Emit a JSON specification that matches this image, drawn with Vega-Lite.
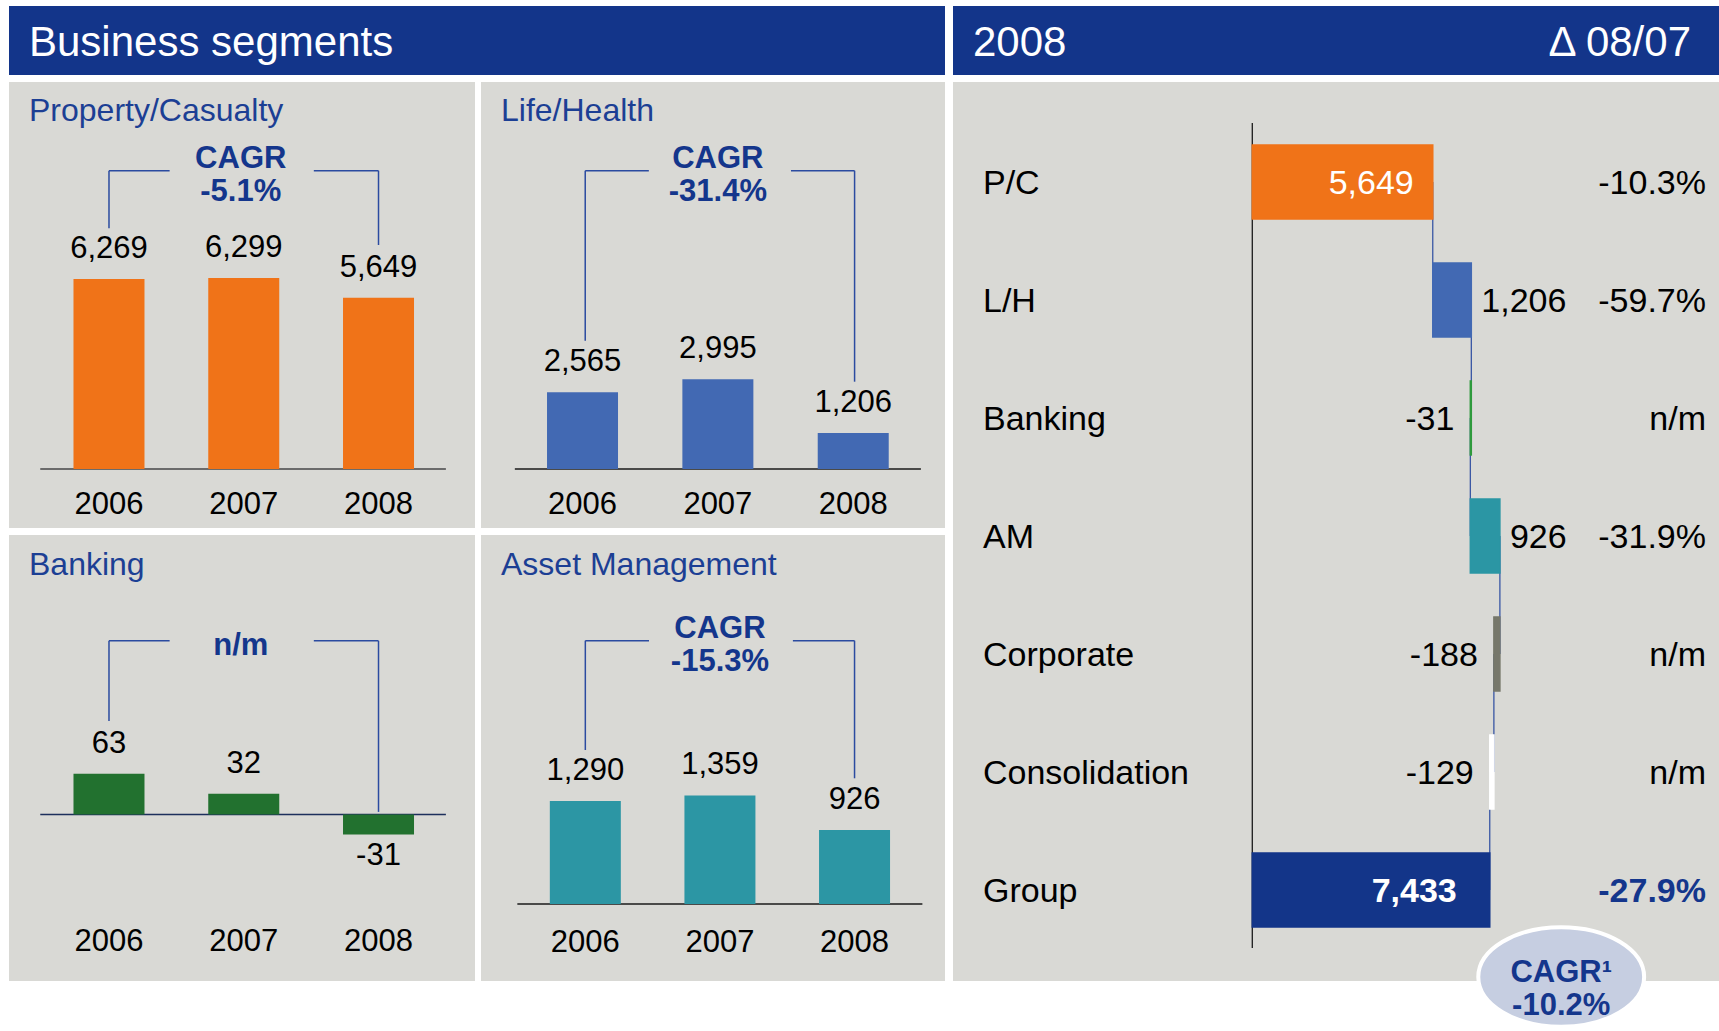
{
"$schema": "https://vega.github.io/schema/vega-lite/v6.json",
"background": "white",
"padding": {"left": 9, "top": 6, "right": 0, "bottom": 0},
"config": {"view": {"stroke": null}, "font": "Liberation Sans", "scale": {"continuousPadding": 0}},
"spacing": 7,
"vconcat": [
 {"hconcat": [
   {"width": 936, "height": 69, "view": {"fill": "#13358a", "stroke": null},
    "data": {"values": [{"t": "Business segments", "p": 0}]},
    "mark": {"type": "text", "align": "left", "baseline": "middle", "dx": 20, "dy": 2, "fontSize": 42, "color": "white"},
    "encoding": {"x": {"field": "p", "type": "quantitative", "axis": null, "scale": {"domain": [0, 1]}}, "text": {"field": "t"}}},
   {"width": 766, "height": 69, "view": {"fill": "#13358a", "stroke": null},
    "layer": [
     {"data": {"values": [{"t": "2008", "p": 0}]},
      "mark": {"type": "text", "align": "left", "baseline": "middle", "dx": 20, "dy": 2, "fontSize": 42, "color": "white"},
      "encoding": {"x": {"field": "p", "type": "quantitative", "axis": null, "scale": {"domain": [0, 1]}}, "text": {"field": "t"}}},
     {"data": {"values": [{"t": "Δ 08/07", "p": 1}]},
      "mark": {"type": "text", "align": "right", "baseline": "middle", "dx": -28, "dy": 2, "fontSize": 42, "color": "white"},
      "encoding": {"x": {"field": "p", "type": "quantitative", "axis": null, "scale": {"domain": [0, 1]}}, "text": {"field": "t"}}}
    ]}
  ], "spacing": 8},
 {"hconcat": [
   {"vconcat": [
     {"hconcat": [
       {"width": 466, "height": 446, "view": {"fill": "#d9d9d5", "stroke": null},
        "layer": [
         {"data": {"values": [{"a": 2005.49, "b": 2008.5, "z": 0}]},
          "mark": {"type": "rule", "color": "#6b6b6b", "strokeWidth": 2},
          "encoding": {"x": {"field": "a", "type": "quantitative", "axis": null, "scale": {"domain": [2005.258, 2008.716], "nice": false, "zero": false, "padding": 0}}, "x2": {"field": "b"},
                       "y": {"field": "z", "type": "quantitative", "axis": null, "scale": {"domain": [-1947, 12771], "nice": false, "zero": false}}}},
         {"data": {"values": [{"year": 2006, "v": 6269, "label": "6,269"}, {"year": 2007, "v": 6299, "label": "6,299"}, {"year": 2008, "v": 5649, "label": "5,649"}]},
          "layer": [
           {"mark": {"type": "bar", "color": "#f07318", "size": 71},
            "encoding": {"x": {"field": "year", "type": "quantitative", "axis": null, "scale": {"domain": [2005.258, 2008.716], "nice": false, "zero": false, "padding": 0}},
                         "y": {"field": "v", "type": "quantitative", "axis": null, "scale": {"domain": [-1947, 12771], "nice": false, "zero": false}}}},
           {"mark": {"type": "text", "fontSize": 31, "dy": -21, "baseline": "alphabetic", "color": "black"},
            "encoding": {"x": {"field": "year", "type": "quantitative", "axis": null, "scale": {"domain": [2005.258, 2008.716], "nice": false, "zero": false, "padding": 0}},
                         "y": {"field": "v", "type": "quantitative", "axis": null, "scale": {"domain": [-1947, 12771], "nice": false, "zero": false}},
                         "text": {"field": "label"}}},
           {"mark": {"type": "text", "fontSize": 31, "dy": 45, "baseline": "alphabetic", "color": "black"},
            "encoding": {"x": {"field": "year", "type": "quantitative", "axis": null, "scale": {"domain": [2005.258, 2008.716], "nice": false, "zero": false, "padding": 0}},
                         "y": {"datum": 0, "type": "quantitative", "axis": null, "scale": {"domain": [-1947, 12771], "nice": false, "zero": false}},
                         "text": {"field": "year", "type": "quantitative", "format": "d"}}}
          ]},
         {"data": {"values": [{"x": 2006, "x2": 2006, "y": 7943, "y2": 9844}, {"x": 2006, "x2": 2006.45, "y": 9844, "y2": 9844}, {"x": 2007.52, "x2": 2008, "y": 9844, "y2": 9844}, {"x": 2008, "x2": 2008, "y": 9844, "y2": 7392}]},
          "mark": {"type": "rule", "color": "#2b4ba0", "strokeWidth": 1.5},
          "encoding": {"x": {"field": "x", "type": "quantitative", "axis": null, "scale": {"domain": [2005.258, 2008.716], "nice": false, "zero": false, "padding": 0}}, "x2": {"field": "x2"},
                       "y": {"field": "y", "type": "quantitative", "axis": null, "scale": {"domain": [-1947, 12771], "nice": false, "zero": false}}, "y2": {"field": "y2"}}},
         {"data": {"values": [{"x": 2007, "y": 9844, "t": "CAGR\n-5.1%"}]},
          "mark": {"type": "text", "fontSize": 31, "fontWeight": "bold", "color": "#14368c", "lineBreak": "\n", "lineHeight": 33, "dy": -3, "dx": -3, "baseline": "alphabetic"},
          "encoding": {"x": {"field": "x", "type": "quantitative", "axis": null, "scale": {"domain": [2005.258, 2008.716], "nice": false, "zero": false, "padding": 0}},
                       "y": {"field": "y", "type": "quantitative", "axis": null, "scale": {"domain": [-1947, 12771], "nice": false, "zero": false}}, "text": {"field": "t"}}},
         {"data": {"values": [{"t": "Property/Casualty"}]},
          "mark": {"type": "text", "fontSize": 32, "color": "#1c3f94", "align": "left", "baseline": "alphabetic", "dx": 20, "dy": 39},
          "encoding": {"x": {"datum": 2005.258, "type": "quantitative", "axis": null, "scale": {"domain": [2005.258, 2008.716], "nice": false, "zero": false, "padding": 0}},
                       "y": {"datum": 12771, "type": "quantitative", "axis": null, "scale": {"domain": [-1947, 12771], "nice": false, "zero": false}}, "text": {"field": "t"}}}
        ]},
       {"width": 464, "height": 446, "view": {"fill": "#d9d9d5", "stroke": null},
        "layer": [
         {"data": {"values": [{"a": 2005.5, "b": 2008.5, "z": 0}]},
          "mark": {"type": "rule", "color": "#1a1a1a", "strokeWidth": 1.5},
          "encoding": {"x": {"field": "a", "type": "quantitative", "axis": null, "scale": {"domain": [2005.25, 2008.678], "nice": false, "zero": false, "padding": 0}}, "x2": {"field": "b"},
                       "y": {"field": "z", "type": "quantitative", "axis": null, "scale": {"domain": [-1971, 12926], "nice": false, "zero": false}}}},
         {"data": {"values": [{"year": 2006, "v": 2565, "label": "2,565"}, {"year": 2007, "v": 2995, "label": "2,995"}, {"year": 2008, "v": 1206, "label": "1,206"}]},
          "layer": [
           {"mark": {"type": "bar", "color": "#4269b3", "size": 71},
            "encoding": {"x": {"field": "year", "type": "quantitative", "axis": null, "scale": {"domain": [2005.25, 2008.678], "nice": false, "zero": false, "padding": 0}},
                         "y": {"field": "v", "type": "quantitative", "axis": null, "scale": {"domain": [-1971, 12926], "nice": false, "zero": false}}}},
           {"mark": {"type": "text", "fontSize": 31, "dy": -21, "baseline": "alphabetic", "color": "black"},
            "encoding": {"x": {"field": "year", "type": "quantitative", "axis": null, "scale": {"domain": [2005.25, 2008.678], "nice": false, "zero": false, "padding": 0}},
                         "y": {"field": "v", "type": "quantitative", "axis": null, "scale": {"domain": [-1971, 12926], "nice": false, "zero": false}},
                         "text": {"field": "label"}}},
           {"mark": {"type": "text", "fontSize": 31, "dy": 45, "baseline": "alphabetic", "color": "black"},
            "encoding": {"x": {"field": "year", "type": "quantitative", "axis": null, "scale": {"domain": [2005.25, 2008.678], "nice": false, "zero": false, "padding": 0}},
                         "y": {"datum": 0, "type": "quantitative", "axis": null, "scale": {"domain": [-1971, 12926], "nice": false, "zero": false}},
                         "text": {"field": "year", "type": "quantitative", "format": "d"}}}
          ]},
         {"data": {"values": [{"x": 2006.02, "x2": 2006.02, "y": 4285, "y2": 9963}, {"x": 2006.02, "x2": 2006.49, "y": 9963, "y2": 9963}, {"x": 2007.54, "x2": 2008.01, "y": 9963, "y2": 9963}, {"x": 2008.01, "x2": 2008.01, "y": 9963, "y2": 2916}]},
          "mark": {"type": "rule", "color": "#2b4ba0", "strokeWidth": 1.5},
          "encoding": {"x": {"field": "x", "type": "quantitative", "axis": null, "scale": {"domain": [2005.25, 2008.678], "nice": false, "zero": false, "padding": 0}}, "x2": {"field": "x2"},
                       "y": {"field": "y", "type": "quantitative", "axis": null, "scale": {"domain": [-1971, 12926], "nice": false, "zero": false}}, "y2": {"field": "y2"}}},
         {"data": {"values": [{"x": 2007, "y": 9963, "t": "CAGR\n-31.4%"}]},
          "mark": {"type": "text", "fontSize": 31, "fontWeight": "bold", "color": "#14368c", "lineBreak": "\n", "lineHeight": 33, "dy": -3, "baseline": "alphabetic"},
          "encoding": {"x": {"field": "x", "type": "quantitative", "axis": null, "scale": {"domain": [2005.25, 2008.678], "nice": false, "zero": false, "padding": 0}},
                       "y": {"field": "y", "type": "quantitative", "axis": null, "scale": {"domain": [-1971, 12926], "nice": false, "zero": false}}, "text": {"field": "t"}}},
         {"data": {"values": [{"t": "Life/Health"}]},
          "mark": {"type": "text", "fontSize": 32, "color": "#1c3f94", "align": "left", "baseline": "alphabetic", "dx": 20, "dy": 39},
          "encoding": {"x": {"datum": 2005.25, "type": "quantitative", "axis": null, "scale": {"domain": [2005.25, 2008.678], "nice": false, "zero": false, "padding": 0}},
                       "y": {"datum": 12926, "type": "quantitative", "axis": null, "scale": {"domain": [-1971, 12926], "nice": false, "zero": false}}, "text": {"field": "t"}}}
        ]}
      ], "spacing": 6},
     {"hconcat": [
       {"width": 466, "height": 446, "view": {"fill": "#d9d9d5", "stroke": null},
        "layer": [
         {"data": {"values": [{"a": 2005.49, "b": 2008.5, "z": 0}]},
          "mark": {"type": "rule", "color": "#1d2f5c", "strokeWidth": 1.5},
          "encoding": {"x": {"field": "a", "type": "quantitative", "axis": null, "scale": {"domain": [2005.258, 2008.716], "nice": false, "zero": false, "padding": 0}}, "x2": {"field": "b"},
                       "y": {"field": "z", "type": "quantitative", "axis": null, "scale": {"domain": [-258, 433], "nice": false, "zero": false}}}},
         {"data": {"values": [{"year": 2006, "v": 63, "label": "63"}, {"year": 2007, "v": 32, "label": "32"}, {"year": 2008, "v": -31, "label": "-31"}]},
          "layer": [
           {"mark": {"type": "bar", "color": "#22712f", "size": 71},
            "encoding": {"x": {"field": "year", "type": "quantitative", "axis": null, "scale": {"domain": [2005.258, 2008.716], "nice": false, "zero": false, "padding": 0}},
                         "y": {"field": "v", "type": "quantitative", "axis": null, "scale": {"domain": [-258, 433], "nice": false, "zero": false}}}},
           {"transform": [{"filter": "datum.v >= 0"}],
            "mark": {"type": "text", "fontSize": 31, "dy": -21, "baseline": "alphabetic", "color": "black"},
            "encoding": {"x": {"field": "year", "type": "quantitative", "axis": null, "scale": {"domain": [2005.258, 2008.716], "nice": false, "zero": false, "padding": 0}},
                         "y": {"field": "v", "type": "quantitative", "axis": null, "scale": {"domain": [-258, 433], "nice": false, "zero": false}},
                         "text": {"field": "label"}}},
           {"transform": [{"filter": "datum.v < 0"}],
            "mark": {"type": "text", "fontSize": 31, "dy": 31, "baseline": "alphabetic", "color": "black"},
            "encoding": {"x": {"field": "year", "type": "quantitative", "axis": null, "scale": {"domain": [2005.258, 2008.716], "nice": false, "zero": false, "padding": 0}},
                         "y": {"field": "v", "type": "quantitative", "axis": null, "scale": {"domain": [-258, 433], "nice": false, "zero": false}},
                         "text": {"field": "label"}}},
           {"mark": {"type": "text", "fontSize": 31, "dy": 137, "baseline": "alphabetic", "color": "black"},
            "encoding": {"x": {"field": "year", "type": "quantitative", "axis": null, "scale": {"domain": [2005.258, 2008.716], "nice": false, "zero": false, "padding": 0}},
                         "y": {"datum": 0, "type": "quantitative", "axis": null, "scale": {"domain": [-258, 433], "nice": false, "zero": false}},
                         "text": {"field": "year", "type": "quantitative", "format": "d"}}}
          ]},
         {"data": {"values": [{"x": 2006, "x2": 2006, "y": 145, "y2": 269}, {"x": 2006, "x2": 2006.45, "y": 269, "y2": 269}, {"x": 2007.52, "x2": 2008, "y": 269, "y2": 269}, {"x": 2008, "x2": 2008, "y": 269, "y2": 4}]},
          "mark": {"type": "rule", "color": "#2b4ba0", "strokeWidth": 1.5},
          "encoding": {"x": {"field": "x", "type": "quantitative", "axis": null, "scale": {"domain": [2005.258, 2008.716], "nice": false, "zero": false, "padding": 0}}, "x2": {"field": "x2"},
                       "y": {"field": "y", "type": "quantitative", "axis": null, "scale": {"domain": [-258, 433], "nice": false, "zero": false}}, "y2": {"field": "y2"}}},
         {"data": {"values": [{"x": 2007, "y": 269, "t": "n/m"}]},
          "mark": {"type": "text", "fontSize": 31, "fontWeight": "bold", "color": "#14368c", "dy": 14, "dx": -3, "baseline": "alphabetic"},
          "encoding": {"x": {"field": "x", "type": "quantitative", "axis": null, "scale": {"domain": [2005.258, 2008.716], "nice": false, "zero": false, "padding": 0}},
                       "y": {"field": "y", "type": "quantitative", "axis": null, "scale": {"domain": [-258, 433], "nice": false, "zero": false}}, "text": {"field": "t"}}},
         {"data": {"values": [{"t": "Banking"}]},
          "mark": {"type": "text", "fontSize": 32, "color": "#1c3f94", "align": "left", "baseline": "alphabetic", "dx": 20, "dy": 40},
          "encoding": {"x": {"datum": 2005.258, "type": "quantitative", "axis": null, "scale": {"domain": [2005.258, 2008.716], "nice": false, "zero": false, "padding": 0}},
                       "y": {"datum": 433, "type": "quantitative", "axis": null, "scale": {"domain": [-258, 433], "nice": false, "zero": false}}, "text": {"field": "t"}}}
        ]},
       {"width": 464, "height": 446, "view": {"fill": "#d9d9d5", "stroke": null},
        "layer": [
         {"data": {"values": [{"a": 2005.495, "b": 2008.504, "z": 0}]},
          "mark": {"type": "rule", "color": "#1a1a1a", "strokeWidth": 1.5},
          "encoding": {"x": {"field": "a", "type": "quantitative", "axis": null, "scale": {"domain": [2005.225, 2008.672], "nice": false, "zero": false, "padding": 0}}, "x2": {"field": "b"},
                       "y": {"field": "z", "type": "quantitative", "axis": null, "scale": {"domain": [-964, 4620], "nice": false, "zero": false}}}},
         {"data": {"values": [{"year": 2006, "v": 1290, "label": "1,290"}, {"year": 2007, "v": 1359, "label": "1,359"}, {"year": 2008, "v": 926, "label": "926"}]},
          "layer": [
           {"mark": {"type": "bar", "color": "#2c96a4", "size": 71},
            "encoding": {"x": {"field": "year", "type": "quantitative", "axis": null, "scale": {"domain": [2005.225, 2008.672], "nice": false, "zero": false, "padding": 0}},
                         "y": {"field": "v", "type": "quantitative", "axis": null, "scale": {"domain": [-964, 4620], "nice": false, "zero": false}}}},
           {"mark": {"type": "text", "fontSize": 31, "dy": -21, "baseline": "alphabetic", "color": "black"},
            "encoding": {"x": {"field": "year", "type": "quantitative", "axis": null, "scale": {"domain": [2005.225, 2008.672], "nice": false, "zero": false, "padding": 0}},
                         "y": {"field": "v", "type": "quantitative", "axis": null, "scale": {"domain": [-964, 4620], "nice": false, "zero": false}},
                         "text": {"field": "label"}}},
           {"mark": {"type": "text", "fontSize": 31, "dy": 48, "baseline": "alphabetic", "color": "black"},
            "encoding": {"x": {"field": "year", "type": "quantitative", "axis": null, "scale": {"domain": [2005.225, 2008.672], "nice": false, "zero": false, "padding": 0}},
                         "y": {"datum": 0, "type": "quantitative", "axis": null, "scale": {"domain": [-964, 4620], "nice": false, "zero": false}},
                         "text": {"field": "year", "type": "quantitative", "format": "d"}}}
          ]},
         {"data": {"values": [{"x": 2006, "x2": 2006, "y": 1928, "y2": 3297}, {"x": 2006, "x2": 2006.473, "y": 3297, "y2": 3297}, {"x": 2007.542, "x2": 2008, "y": 3297, "y2": 3297}, {"x": 2008, "x2": 2008, "y": 3297, "y2": 1574}]},
          "mark": {"type": "rule", "color": "#2b4ba0", "strokeWidth": 1.5},
          "encoding": {"x": {"field": "x", "type": "quantitative", "axis": null, "scale": {"domain": [2005.225, 2008.672], "nice": false, "zero": false, "padding": 0}}, "x2": {"field": "x2"},
                       "y": {"field": "y", "type": "quantitative", "axis": null, "scale": {"domain": [-964, 4620], "nice": false, "zero": false}}, "y2": {"field": "y2"}}},
         {"data": {"values": [{"x": 2007, "y": 3297, "t": "CAGR\n-15.3%"}]},
          "mark": {"type": "text", "fontSize": 31, "fontWeight": "bold", "color": "#14368c", "lineBreak": "\n", "lineHeight": 33, "dy": -3, "baseline": "alphabetic"},
          "encoding": {"x": {"field": "x", "type": "quantitative", "axis": null, "scale": {"domain": [2005.225, 2008.672], "nice": false, "zero": false, "padding": 0}},
                       "y": {"field": "y", "type": "quantitative", "axis": null, "scale": {"domain": [-964, 4620], "nice": false, "zero": false}}, "text": {"field": "t"}}},
         {"data": {"values": [{"t": "Asset Management"}]},
          "mark": {"type": "text", "fontSize": 32, "color": "#1c3f94", "align": "left", "baseline": "alphabetic", "dx": 20, "dy": 40},
          "encoding": {"x": {"datum": 2005.225, "type": "quantitative", "axis": null, "scale": {"domain": [2005.225, 2008.672], "nice": false, "zero": false, "padding": 0}},
                       "y": {"datum": 4620, "type": "quantitative", "axis": null, "scale": {"domain": [-964, 4620], "nice": false, "zero": false}}, "text": {"field": "t"}}}
        ]}
      ], "spacing": 6}
    ], "spacing": 7},
   {"width": 766, "height": 899, "view": {"fill": "#d9d9d5", "stroke": null},
    "layer": [
     {"data": {"values": [{"z": 0, "a": "P/C", "b": "Group"}]},
      "mark": {"type": "rule", "color": "#1a1a1a", "strokeWidth": 1.3, "yOffset": -59, "y2Offset": 58},
      "encoding": {"x": {"field": "z", "type": "quantitative", "axis": null, "scale": {"domain": [-9368, 14608], "nice": false, "zero": false, "padding": 0}},
                   "y": {"field": "a", "type": "nominal", "axis": null, "scale": {"domain": ["P/C", "L/H", "Banking", "AM", "Corporate", "Consolidation", "Group"], "paddingInner": 0.373, "paddingOuter": 0.496, "align": 0.538}},
                   "y2": {"field": "b"}}},
     {"data": {"values": [
        {"seg": "P/C", "start": 0, "end": 5649, "label": "5,649", "chg": "-10.3%", "next": "L/H"},
        {"seg": "L/H", "start": 5649, "end": 6855, "label": "1,206", "chg": "-59.7%", "next": "Banking"},
        {"seg": "Banking", "start": 6855, "end": 6824, "label": "-31", "chg": "n/m", "next": "AM"},
        {"seg": "AM", "start": 6824, "end": 7750, "label": "926", "chg": "-31.9%", "next": "Corporate"},
        {"seg": "Corporate", "start": 7750, "end": 7562, "label": "-188", "chg": "n/m", "next": "Consolidation"},
        {"seg": "Consolidation", "start": 7562, "end": 7433, "label": "-129", "chg": "n/m", "next": "Group"},
        {"seg": "Group", "start": 0, "end": 7433, "label": "7,433", "chg": "-27.9%", "next": null}]},
      "layer": [
       {"transform": [{"filter": "isValid(datum.next)"}],
        "mark": {"type": "rule", "color": "#2b4ba0", "strokeWidth": 1.2},
        "encoding": {"x": {"field": "end", "type": "quantitative", "axis": null, "scale": {"domain": [-9368, 14608], "nice": false, "zero": false, "padding": 0}},
                     "y": {"field": "seg", "type": "nominal", "axis": null, "scale": {"domain": ["P/C", "L/H", "Banking", "AM", "Corporate", "Consolidation", "Group"], "paddingInner": 0.373, "paddingOuter": 0.496, "align": 0.538}},
                     "y2": {"field": "next"}}},
       {"mark": {"type": "bar", "strokeWidth": 1.5},
        "encoding": {"x": {"field": "start", "type": "quantitative", "axis": null, "scale": {"domain": [-9368, 14608], "nice": false, "zero": false, "padding": 0}},
                     "x2": {"field": "end"},
                     "y": {"field": "seg", "type": "nominal", "axis": null, "scale": {"domain": ["P/C", "L/H", "Banking", "AM", "Corporate", "Consolidation", "Group"], "paddingInner": 0.373, "paddingOuter": 0.496, "align": 0.538}},
                     "color": {"field": "seg", "type": "nominal", "legend": null, "scale": {"domain": ["P/C", "L/H", "Banking", "AM", "Corporate", "Consolidation", "Group"], "range": ["#f07318", "#4269b3", "#2e9a3c", "#2b96a4", "#76776a", "#ffffff", "#133589"]}},
                     "stroke": {"field": "seg", "type": "nominal", "legend": null, "scale": {"domain": ["P/C", "L/H", "Banking", "AM", "Corporate", "Consolidation", "Group"], "range": ["#f07318", "#4269b3", "#2e9a3c", "#2b96a4", "#76776a", "#ffffff", "#133589"]}}}},
       {"transform": [{"filter": "datum.seg == 'P/C'"}],
        "mark": {"type": "text", "fontSize": 34, "align": "right", "baseline": "middle", "dx": -19, "dy": 2, "color": "white"},
        "encoding": {"x": {"field": "end", "type": "quantitative", "axis": null, "scale": {"domain": [-9368, 14608], "nice": false, "zero": false, "padding": 0}},
                     "y": {"field": "seg", "type": "nominal", "axis": null, "scale": {"domain": ["P/C", "L/H", "Banking", "AM", "Corporate", "Consolidation", "Group"], "paddingInner": 0.373, "paddingOuter": 0.496, "align": 0.538}},
                     "text": {"field": "label"}}},
       {"transform": [{"filter": "datum.seg == 'Group'"}],
        "mark": {"type": "text", "fontSize": 34, "fontWeight": "bold", "align": "right", "baseline": "middle", "dx": -33, "dy": 2, "color": "white"},
        "encoding": {"x": {"field": "end", "type": "quantitative", "axis": null, "scale": {"domain": [-9368, 14608], "nice": false, "zero": false, "padding": 0}},
                     "y": {"field": "seg", "type": "nominal", "axis": null, "scale": {"domain": ["P/C", "L/H", "Banking", "AM", "Corporate", "Consolidation", "Group"], "paddingInner": 0.373, "paddingOuter": 0.496, "align": 0.538}},
                     "text": {"field": "label"}}},
       {"transform": [{"filter": "datum.start > 0 && datum.end > datum.start"}],
        "mark": {"type": "text", "fontSize": 34, "align": "left", "baseline": "middle", "dx": 10, "dy": 2, "color": "black"},
        "encoding": {"x": {"field": "end", "type": "quantitative", "axis": null, "scale": {"domain": [-9368, 14608], "nice": false, "zero": false, "padding": 0}},
                     "y": {"field": "seg", "type": "nominal", "axis": null, "scale": {"domain": ["P/C", "L/H", "Banking", "AM", "Corporate", "Consolidation", "Group"], "paddingInner": 0.373, "paddingOuter": 0.496, "align": 0.538}},
                     "text": {"field": "label"}}},
       {"transform": [{"filter": "datum.end < datum.start"}],
        "mark": {"type": "text", "fontSize": 34, "align": "right", "baseline": "middle", "dx": -16, "dy": 2, "color": "black"},
        "encoding": {"x": {"field": "end", "type": "quantitative", "axis": null, "scale": {"domain": [-9368, 14608], "nice": false, "zero": false, "padding": 0}},
                     "y": {"field": "seg", "type": "nominal", "axis": null, "scale": {"domain": ["P/C", "L/H", "Banking", "AM", "Corporate", "Consolidation", "Group"], "paddingInner": 0.373, "paddingOuter": 0.496, "align": 0.538}},
                     "text": {"field": "label"}}},
       {"mark": {"type": "text", "fontSize": 34, "align": "left", "baseline": "middle", "dx": 30, "dy": 2, "color": "black"},
        "encoding": {"x": {"datum": -9368, "type": "quantitative", "axis": null, "scale": {"domain": [-9368, 14608], "nice": false, "zero": false, "padding": 0}},
                     "y": {"field": "seg", "type": "nominal", "axis": null, "scale": {"domain": ["P/C", "L/H", "Banking", "AM", "Corporate", "Consolidation", "Group"], "paddingInner": 0.373, "paddingOuter": 0.496, "align": 0.538}},
                     "text": {"field": "seg"}}},
       {"transform": [{"filter": "datum.seg != 'Group'"}],
        "mark": {"type": "text", "fontSize": 34, "align": "right", "baseline": "middle", "dx": -13, "dy": 2, "color": "black"},
        "encoding": {"x": {"datum": 14608, "type": "quantitative", "axis": null, "scale": {"domain": [-9368, 14608], "nice": false, "zero": false, "padding": 0}},
                     "y": {"field": "seg", "type": "nominal", "axis": null, "scale": {"domain": ["P/C", "L/H", "Banking", "AM", "Corporate", "Consolidation", "Group"], "paddingInner": 0.373, "paddingOuter": 0.496, "align": 0.538}},
                     "text": {"field": "chg"}}},
       {"transform": [{"filter": "datum.seg == 'Group'"}],
        "mark": {"type": "text", "fontSize": 34, "fontWeight": "bold", "align": "right", "baseline": "middle", "dx": -13, "dy": 2, "color": "#14368c"},
        "encoding": {"x": {"datum": 14608, "type": "quantitative", "axis": null, "scale": {"domain": [-9368, 14608], "nice": false, "zero": false, "padding": 0}},
                     "y": {"field": "seg", "type": "nominal", "axis": null, "scale": {"domain": ["P/C", "L/H", "Banking", "AM", "Corporate", "Consolidation", "Group"], "paddingInner": 0.373, "paddingOuter": 0.496, "align": 0.538}},
                     "text": {"field": "chg"}}}
      ]},
     {"data": {"values": [{"x": 9669, "seg": "Group", "t": "CAGR¹\n-10.2%"}]},
      "layer": [
       {"mark": {"type": "point", "shape": "M -1 0 A 1 0.6 0 1 1 1 0 A 1 0.6 0 1 1 -1 0 Z", "size": 27500, "filled": true, "fill": "#c6cee1", "stroke": "white", "strokeWidth": 4, "opacity": 1, "fillOpacity": 1, "yOffset": 87},
        "encoding": {"x": {"field": "x", "type": "quantitative", "axis": null, "scale": {"domain": [-9368, 14608], "nice": false, "zero": false, "padding": 0}},
                     "y": {"field": "seg", "type": "nominal", "axis": null, "scale": {"domain": ["P/C", "L/H", "Banking", "AM", "Corporate", "Consolidation", "Group"], "paddingInner": 0.373, "paddingOuter": 0.496, "align": 0.538}}}},
       {"mark": {"type": "text", "fontSize": 31, "fontWeight": "bold", "color": "#14368c", "lineBreak": "\n", "lineHeight": 33, "baseline": "alphabetic", "dy": 92},
        "encoding": {"x": {"field": "x", "type": "quantitative", "axis": null, "scale": {"domain": [-9368, 14608], "nice": false, "zero": false, "padding": 0}},
                     "y": {"field": "seg", "type": "nominal", "axis": null, "scale": {"domain": ["P/C", "L/H", "Banking", "AM", "Corporate", "Consolidation", "Group"], "paddingInner": 0.373, "paddingOuter": 0.496, "align": 0.538}},
                     "text": {"field": "t"}}}
      ]}
    ]}
  ], "spacing": 8}
]
}
